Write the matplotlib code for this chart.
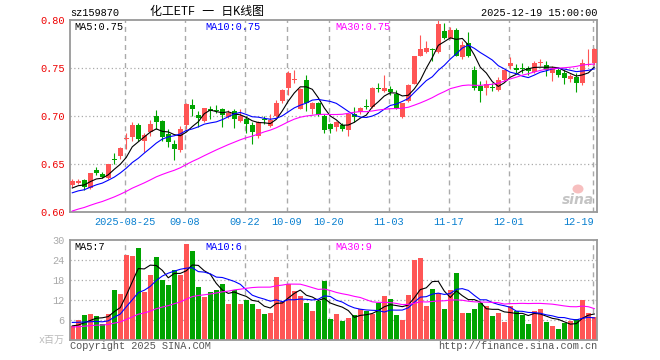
import numpy as np
import pandas as pd
import matplotlib
matplotlib.use("Agg")
import matplotlib.pyplot as plt
import matplotlib.transforms as mtransforms
from matplotlib.patches import Ellipse

# ---------------- data ----------------
open_ = [0.628, 0.630, 0.633, 0.625, 0.644, 0.640, 0.635, 0.6555, 0.658, 0.676,
         0.678, 0.691, 0.674, 0.683, 0.700, 0.695, 0.681, 0.671, 0.665, 0.691,
         0.711, 0.701, 0.695, 0.707, 0.706, 0.707, 0.699, 0.705, 0.695, 0.697,
         0.691, 0.679, 0.6965, 0.690, 0.700, 0.716, 0.729, 0.737, 0.707, 0.738,
         0.707, 0.714, 0.700, 0.692, 0.689, 0.691, 0.685, 0.702, 0.704, 0.7105,
         0.709, 0.7295, 0.726, 0.728, 0.723, 0.699, 0.716, 0.733, 0.763, 0.767,
         0.770, 0.767, 0.789, 0.781, 0.790, 0.761, 0.776, 0.748, 0.731, 0.729,
         0.730, 0.727, 0.738, 0.752, 0.750, 0.7495, 0.750, 0.7455, 0.755, 0.753,
         0.745, 0.748, 0.745, 0.7385, 0.741, 0.734, 0.753, 0.755]
high = [0.634, 0.634, 0.634, 0.641, 0.647, 0.642, 0.650, 0.661, 0.668, 0.682,
        0.694, 0.693, 0.682, 0.696, 0.706, 0.696, 0.686, 0.675, 0.690, 0.714,
        0.718, 0.705, 0.708, 0.710, 0.711, 0.708, 0.706, 0.707, 0.707, 0.700,
        0.694, 0.695, 0.700, 0.702, 0.717, 0.728, 0.747, 0.748, 0.729, 0.743,
        0.715, 0.715, 0.702, 0.693, 0.695, 0.693, 0.703, 0.709, 0.709, 0.718,
        0.730, 0.734, 0.743, 0.731, 0.727, 0.714, 0.733, 0.763, 0.784, 0.778,
        0.771, 0.800, 0.797, 0.793, 0.792, 0.778, 0.788, 0.752, 0.736, 0.738,
        0.734, 0.741, 0.748, 0.761, 0.754, 0.755, 0.752, 0.757, 0.759, 0.757,
        0.752, 0.750, 0.748, 0.744, 0.745, 0.759, 0.770, 0.771]
low = [0.626, 0.629, 0.623, 0.624, 0.639, 0.635, 0.634, 0.650, 0.655, 0.666,
       0.674, 0.674, 0.662, 0.679, 0.686, 0.674, 0.668, 0.654, 0.663, 0.686,
       0.700, 0.689, 0.694, 0.697, 0.703, 0.689, 0.698, 0.688, 0.694, 0.682,
       0.671, 0.677, 0.692, 0.689, 0.699, 0.714, 0.722, 0.734, 0.707, 0.705,
       0.702, 0.700, 0.682, 0.682, 0.684, 0.684, 0.679, 0.694, 0.702, 0.707,
       0.708, 0.725, 0.725, 0.722, 0.707, 0.698, 0.715, 0.733, 0.763, 0.766,
       0.757, 0.766, 0.780, 0.780, 0.762, 0.759, 0.761, 0.727, 0.715, 0.722,
       0.726, 0.726, 0.736, 0.749, 0.745, 0.745, 0.743, 0.745, 0.752, 0.742,
       0.736, 0.741, 0.733, 0.735, 0.725, 0.732, 0.752, 0.753]
close = [0.632, 0.632, 0.626, 0.641, 0.641, 0.636, 0.650, 0.6545, 0.667, 0.677,
         0.691, 0.676, 0.680, 0.692, 0.694, 0.678, 0.673, 0.666, 0.686, 0.713,
         0.707, 0.698, 0.708, 0.705, 0.705, 0.701, 0.703, 0.697, 0.700, 0.692,
         0.683, 0.694, 0.6955, 0.696, 0.714, 0.727, 0.745, 0.738, 0.728, 0.714,
         0.714, 0.701, 0.685, 0.686, 0.694, 0.686, 0.702, 0.699, 0.708, 0.7095,
         0.729, 0.7285, 0.729, 0.725, 0.708, 0.714, 0.732, 0.762, 0.770, 0.771,
         0.769, 0.796, 0.781, 0.790, 0.763, 0.774, 0.762, 0.729, 0.726, 0.733,
         0.729, 0.737, 0.748, 0.755, 0.748, 0.7485, 0.7465, 0.755, 0.756, 0.748,
         0.749, 0.743, 0.740, 0.742, 0.734, 0.755, 0.7535, 0.770]
volume = [4.2, 6.0, 7.5, 7.8, 7.2, 4.8, 7.8, 15.0, 13.8, 25.5,
          25.2, 27.7, 14.4, 19.5, 24.9, 18.0, 16.5, 21.0, 19.5, 28.8,
          26.7, 15.9, 12.9, 14.4, 15.0, 16.8, 10.8, 15.0, 10.8, 12.0,
          10.8, 9.3, 7.8, 8.1, 18.9, 11.4, 16.8, 14.7, 13.2, 11.1,
          8.7, 11.7, 17.7, 6.3, 7.8, 5.8, 6.6, 7.5, 9.2, 8.8,
          7.7, 11.0, 13.2, 12.3, 7.5, 6.0, 13.5, 24.0, 24.6, 10.2,
          15.3, 14.0, 9.3, 15.0, 20.1, 8.1, 8.1, 9.3, 11.2, 10.2,
          7.2, 8.1, 5.5, 10.2, 8.7, 7.5, 4.8, 8.7, 9.3, 5.5,
          4.2, 3.3, 5.0, 5.8, 6.3, 12.0, 8.1, 6.8]
# estimated sessions before the visible window (needed for the moving averages)
prior_close = [0.572, 0.575, 0.574, 0.578, 0.580, 0.579, 0.582, 0.584, 0.587,
               0.590, 0.594, 0.597, 0.600, 0.598, 0.603, 0.605, 0.604, 0.608, 0.610, 0.611,
               0.612, 0.614, 0.615, 0.616, 0.618, 0.620, 0.622, 0.624, 0.627]
prior_volume = [2.8, 3.1, 2.6, 3.4, 2.9, 3.2, 2.7, 3.0, 3.3, 2.8, 3.1, 2.9, 3.0, 3.2,
                3.3, 3.6, 3.9, 3.4, 3.8, 3.9,
                5.5, 6.8, 7.0, 6.2, 6.0,
                4.8, 4.0, 4.4, 3.8]
date_labels = ["2025-08-25", "09-08", "09-22", "10-09", "10-20", "11-03", "11-17", "12-01", "12-19"]
date_index = [9, 19, 29, 36, 43, 53, 63, 73, 87]
price_ticks = [0.60, 0.65, 0.70, 0.75, 0.80]
vol_ticks = [6, 12, 18, 24, 30]
code = "sz159870"
title = "化工ETF 一 日K线图"
stamp = "2025-12-19 15:00:00"
ma_price_labels = ["MA5:0.75", "MA10:0.75", "MA30:0.75"]
ma_vol_labels = ["MA5:7", "MA10:6", "MA30:9"]

# ---------------- derived ----------------
n = len(close)
np_ = len(prior_close)
cs = pd.Series(prior_close + close)
vs = pd.Series(prior_volume + volume)
ma_p = {k: cs.rolling(k, min_periods=1).mean().values[np_:] for k in (5, 10, 30)}
ma_v = {k: vs.rolling(k, min_periods=1).mean().values[np_:] for k in (5, 10, 30)}

RED = "#ff5555"
GREEN = "#00a400"
MA_COLORS = {5: "#000000", 10: "#0000ff", 30: "#ff00ff"}
GRID = "#aaaaaa"
MONO = ["Liberation Mono", "DejaVu Sans Mono"]
MIX = ["Liberation Mono", "Noto Sans CJK SC", "DejaVu Sans"]

W, H = 660, 360
fig = plt.figure(figsize=(W / 100, H / 100), dpi=100)
fig.patch.set_facecolor("white")

def fx(x):
    return x / W

def fy(y):
    return 1 - y / H

L, R = 70, 597
ax = fig.add_axes([fx(L), fy(212), (R - L) / W, 192 / H])
axv = fig.add_axes([fx(L), fy(340), (R - L) / W, 100 / H])

x = np.arange(n)
o = np.array(open_); c = np.array(close); hi = np.array(high); lo = np.array(low)
up = c >= o
cols = np.where(up, RED, GREEN)
bw = 5 / 6

for a in (ax, axv):
    a.set_xlim(-0.38, 87.45)
    for s in a.spines.values():
        s.set_color("#999999")
        s.set_linewidth(1.3)
    a.set_xticks([])
    a.tick_params(axis="y", length=0, pad=4)
    for di in date_index:
        a.axvline(di - 0.25, color=GRID, lw=1.0, ls=(0, (3.6, 2.9)), zorder=0)

# price panel
ax.set_ylim(0.60, 0.80)
for t in price_ticks[1:-1]:
    ax.axhline(t, color=GRID, lw=0.9, ls=(0, (1, 2)), zorder=0)
ax.set_yticks(price_ticks)
ax.set_yticklabels([f"{t:.2f}" for t in price_ticks], color="#ee0000",
                   fontsize=7.4, family=MONO)
ax.vlines(x, lo, hi, colors=cols, lw=0.8, zorder=2)
body_h = np.maximum(np.abs(c - o), 0.0011)
ax.bar(x, body_h, bottom=np.minimum(o, c), width=bw, color=cols, lw=0, zorder=3)
for k in (5, 10, 30):
    ax.plot(x, ma_p[k], color=MA_COLORS[k], lw=0.8, zorder=4)

trans = mtransforms.blended_transform_factory(ax.transData, ax.transAxes)
for lab, di in zip(date_labels, date_index):
    if di == n - 1:
        ax.text(di - 0.1, -0.052, lab, transform=trans, ha="right", va="center",
                color="#0a80d0", fontsize=7.4, family=MONO)
    else:
        ax.text(di - 0.25, -0.052, lab, transform=trans, ha="center", va="center",
                color="#0a80d0", fontsize=7.4, family=MONO)

# volume panel
axv.set_ylim(0, 30)
for t in vol_ticks[:-1]:
    axv.axhline(t, color=GRID, lw=0.9, ls=(0, (1, 2)), zorder=0)
axv.set_yticks(vol_ticks)
axv.set_yticklabels([str(t) for t in vol_ticks], color="#aaaaaa",
                    fontsize=7.4, family=MONO)
axv.bar(x, volume, width=bw, color=cols, lw=0, zorder=2)
for k in (5, 10, 30):
    axv.plot(x, ma_v[k], color=MA_COLORS[k], lw=0.8, zorder=4)

# texts
fs = 7.4
fig.text(fx(70), fy(13), code, ha="left", va="center", fontsize=fs, family=MONO, color="black")
fig.text(fx(150), fy(12), title, ha="left", va="center", fontsize=8.6, family=MIX, color="black")
fig.text(fx(597), fy(13), stamp, ha="right", va="center", fontsize=fs, family=MONO, color="black")
for lab, xx, col in zip(ma_price_labels, (74, 205, 335), ("black", "#0000ff", "#ff00ff")):
    fig.text(fx(xx), fy(26.5), lab, ha="left", va="center", fontsize=fs, family=MONO, color=col)
for lab, xx, col in zip(ma_vol_labels, (74, 205, 335), ("black", "#0000ff", "#ff00ff")):
    fig.text(fx(xx), fy(246.5), lab, ha="left", va="center", fontsize=fs, family=MONO, color=col)
fig.text(fx(65), fy(340), "x百万", ha="right", va="center", fontsize=7.2, family=MIX, color="#bbbbbb")
fig.text(fx(70), fy(346), "Copyright 2025 SINA.COM", ha="left", va="center",
         fontsize=fs, family=MONO, color="#555555")
fig.text(fx(597), fy(346), "http://finance.sina.com.cn", ha="right", va="center",
         fontsize=fs, family=MONO, color="#555555")

# sina watermark
fig.text(fx(594), fy(200), "sina", ha="right", va="center", fontsize=10, fontweight="bold",
         style="italic", family=["DejaVu Sans"], color="#c4c4c4", zorder=1)
eye = Ellipse((fx(578), fy(189)), 11 / W, 9 / H, transform=fig.transFigure,
              facecolor="#f6b0b0", edgecolor="none", alpha=0.8)
fig.patches.append(eye)

fig.savefig("out.png", dpi=100)
